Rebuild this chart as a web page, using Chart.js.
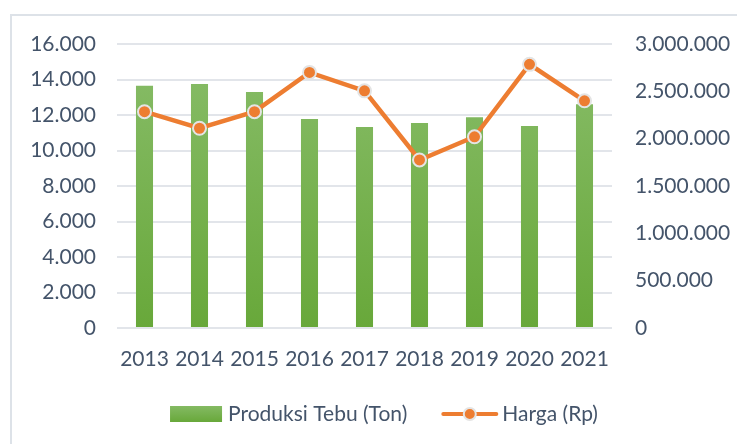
<!DOCTYPE html>
<html>
<head>
<meta charset="utf-8">
<script src="https://cdn.jsdelivr.net/npm/chart.js@4/dist/chart.umd.min.js"></script>
<style>
  html, body { margin: 0; padding: 0; background: #fff; }
  #wrap { width: 737px; height: 444px; }
</style>
</head>
<body>
<div id="wrap"><canvas id="tebu" width="737" height="444"></canvas></div>
<script>
// data
const years = ['2013', '2014', '2015', '2016', '2017', '2018', '2019', '2020', '2021'];
const produksi = [13650, 13750, 13300, 11780, 11330, 11550, 11880, 11380, 12600];   // Ton
const harga = [2285000, 2110000, 2285000, 2700000, 2505000, 1775000, 2020000, 2785000, 2400000]; // Rp
const namaSeri = ['Produksi Tebu (Ton)', 'Harga (Rp)'];

const txtColor = '#44546A';
const gridColor = '#E2E5EA';
const fontFam = 'Lato, "Open Sans", sans-serif';
const fs = 21;

// dotted thousands, like the original
function titik(v){
    return String(v).replace(/\B(?=(\d{3})+(?!\d))/g, '.');
}

function greenGrad(ctx, top, bottom){
    const g = ctx.createLinearGradient(0, top, 0, bottom);
    g.addColorStop(0, '#84BA63');
    g.addColorStop(1, '#68A83A');
    return g;
}

const frame = {
    id: 'frame',
    beforeDraw(chart){
        const c = chart.ctx;
        c.save();
        c.strokeStyle = '#DDE2E8';
        c.lineWidth = 2;
        c.strokeRect(11, 15, chart.width + 20, chart.height + 20);
        c.restore();
    }
};

// legend drawn by hand: bar swatch, line swatch with marker
const legendBawah = {
    id: 'legendBawah',
    afterDraw(chart){
        const c = chart.ctx;
        c.save();
        c.font = fs + 'px ' + fontFam;
        c.textBaseline = 'middle';
        c.fillStyle = txtColor;
        const w1 = c.measureText(namaSeri[0]).width;
        const w2 = c.measureText(namaSeri[1]).width;
        const total = 52 + 6 + w1 + 34 + 57 + 4 + w2;
        const cy = 414;
        let x = 384 - total / 2;
        c.fillStyle = greenGrad(c, cy - 8, cy + 8);
        c.fillRect(x, cy - 8, 52, 16);
        x += 58;
        c.fillStyle = txtColor;
        c.fillText(namaSeri[0], x, cy);
        x += w1 + 34;
        c.strokeStyle = '#ED7D31';
        c.lineWidth = 4;
        c.lineCap = 'round';
        c.beginPath(); c.moveTo(x + 2, cy); c.lineTo(x + 55, cy); c.stroke();
        c.beginPath(); c.arc(x + 28.5, cy, 6, 0, Math.PI * 2);
        c.fillStyle = '#ED7D31'; c.fill();
        c.lineWidth = 2; c.strokeStyle = '#E4E4E4'; c.stroke();
        x += 61;
        c.fillStyle = txtColor;
        c.fillText(namaSeri[1], x, cy);
        c.restore();
    }
};

const ctx = document.getElementById('tebu');
new Chart(ctx, {
    data: {
        labels: years,
        datasets: [{
            type: 'line',
            label: namaSeri[1],
            data: harga,
            yAxisID: 'yHarga',
            borderColor: '#ED7D31',
            borderWidth: 4.5,
            pointRadius: 6.5,
            pointBackgroundColor: '#ED7D31',
            pointBorderColor: '#E4E4E4',
            pointBorderWidth: 2,
            tension: 0,
            order: 0
        }, {
            type: 'bar',
            label: namaSeri[0],
            data: produksi,
            yAxisID: 'yProd',
            backgroundColor: function(c){
                const a = c.chart.chartArea;
                if (!a) return '#70AD47';
                return greenGrad(c.chart.ctx, c.chart.scales.yProd.getPixelForValue(13750), a.bottom);
            },
            categoryPercentage: 1,
            barPercentage: 0.31,
            order: 1
        }]
    },
    options: {
        responsive: false,
        animation: false,
        layout: { padding: { top: 44, left: 0, right: 0, bottom: 66 } },
        plugins: {
            tooltip: { enabled: false },
            legend: { display: false }
        },
        scales: {
            x: {
                grid: { display: false, drawTicks: false },
                border: { display: false },
                ticks: { color: txtColor, font: { family: fontFam, size: fs }, padding: 19, maxRotation: 0 },
                afterFit: s => { s.height = 50; }
            },
            yProd: {
                position: 'left',
                min: 0, max: 16000,
                ticks: { stepSize: 2000, color: txtColor, font: { family: fontFam, size: fs }, padding: 21, callback: v => titik(v) },
                grid: { color: gridColor, lineWidth: 2, drawTicks: false },
                border: { display: false },
                afterFit: s => { s.width = 117; }
            },
            yHarga: {
                position: 'right',
                min: 0, max: 3000000,
                ticks: { stepSize: 500000, color: txtColor, font: { family: fontFam, size: fs }, padding: 23, callback: v => titik(v) },
                grid: { display: false, drawTicks: false },
                border: { display: false },
                afterFit: s => { s.width = 125; }
            }
        }
    },
    plugins: [frame, legendBawah]
});
</script>
</body>
</html>
